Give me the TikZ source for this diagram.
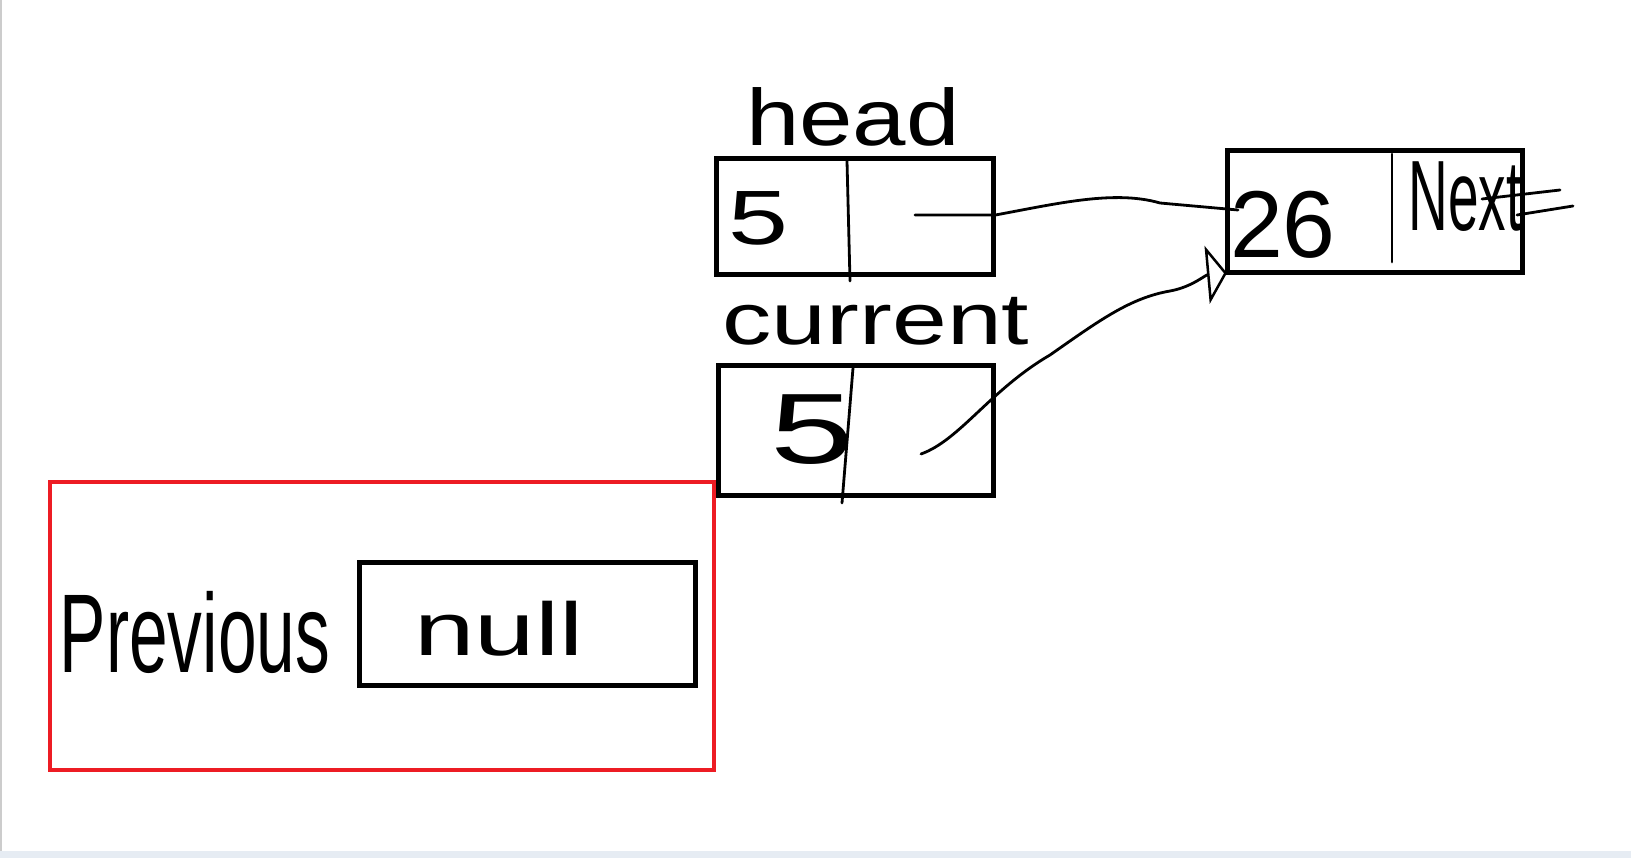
\documentclass[tikz,border=0pt]{standalone}
\usepackage{fontspec}
\setmainfont{Liberation Sans}
\usetikzlibrary{arrows.meta}
\definecolor{paintred}{RGB}{237,28,36}
\definecolor{stripcol}{RGB}{230,236,243}
\tikzset{
  box/.style={draw=black, line width=5pt, inner sep=0pt, fill=none},
  redbox/.style={draw=paintred, line width=4.5pt, inner sep=0pt},
  hand/.style={draw=black, line width=2.8pt, line cap=round, line join=round},
  txt/.style={inner sep=0pt, anchor=base},
}
\newcommand{\fs}[1]{\fontsize{#1}{#1}\selectfont}
\begin{document}
\begin{tikzpicture}[x=1pt,y=-1pt]
\useasboundingbox (0,0) rectangle (1631,858);
\fill[white] (0,0) rectangle (1631,858);
\fill[stripcol] (0,851) rectangle (1631,858);
\draw[black!20, line width=2pt] (1,0) -- (1,851);

% boxes
\node[box, minimum width=277pt, minimum height=116pt] (head) at (854.5,217) {};
\node[box, minimum width=275pt, minimum height=129pt] (cur) at (855.5,430.5) {};
\node[box, minimum width=295pt, minimum height=122pt] (n2) at (1374.5,212) {};
\node[redbox, minimum width=664pt, minimum height=288pt] (prev) at (382,626) {};
\node[box, minimum width=336pt, minimum height=123pt] (nullbox) at (527,623.5) {};

% dividers
\draw[hand] (847,161) -- (850,281);
\draw[hand] (853,368) -- (842,503);
\draw[hand] (1392,154) -- (1392,262);

% labels
\node[txt] (headlbl) at (853,146) {\fs{80}\scalebox{1.2}[1]{head}};
\node[txt] (curlbl) at (876,345) {\fs{73}\scalebox{1.35}[1]{current}};
\node[txt] (prevlbl) at (195,672) {\fs{112}\scalebox{0.62}[1]{Previous}};
\node[txt] (nulllbl) at (499,655) {\fs{75}\scalebox{1.45}[1]{null}};
\node[txt] (h5) at (758,245) {\fs{77}\scalebox{1.4}[1]{5}};
\node[txt] (c5) at (812,464) {\fs{100}\scalebox{1.5}[1]{5}};
\node[txt] (v26) at (1283,258) {\fs{95}26};
\node[txt] (nextlbl) at (1465,231) {\fs{100}\scalebox{0.55}[1]{Next}};

% pointer coordinates
\coordinate (hp) at (915,215);
\coordinate (n2in) at (1238,210);
\coordinate (cp) at (921,454);
\coordinate (n2tip) at (1227,273);
\coordinate (nxA) at (1482,199);
\coordinate (nxB) at (1560,190);
\coordinate (nxC) at (1517,215);
\coordinate (nxD) at (1573,206);

% head pointer
\draw[hand] (hp) -- (head.east |- hp) .. controls (1060,203) and (1115,190) .. (1160,203) -- (n2in);
% current pointer
\draw[hand, -{Triangle[open, length=20pt, width=58pt, line width=2.5pt]}]
  (cp) .. controls (960,440) and (990,390) .. (1050,355)
  .. controls (1100,320) and (1130,298) .. (1170,291)
  .. controls (1192,287) and (1205,275) .. (n2tip);
% next pointer strokes
\draw[hand] (nxA) -- (nxB);
\draw[hand] (nxC) -- (nxD);
\end{tikzpicture}
\end{document}
